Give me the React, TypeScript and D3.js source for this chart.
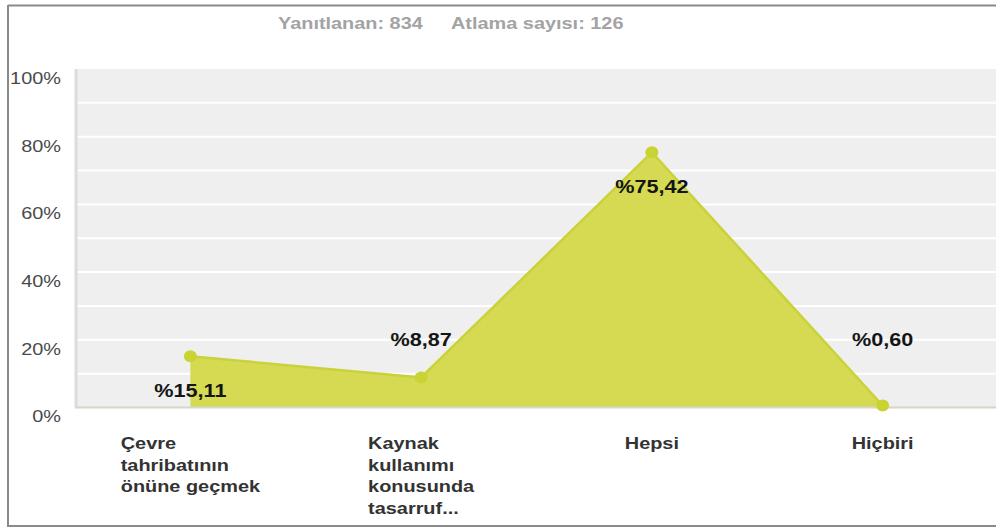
import React, { useMemo } from "react";
import * as d3 from "d3";

const width = 996;
const height = 528;
const margin = { top: 69, right: -2, bottom: 120, left: 75 };
const stretch = 1.17;

const categories = [
  ["Çevre", "tahribatının", "önüne geçmek"],
  ["Kaynak", "kullanımı", "konusunda", "tasarruf..."],
  ["Hepsi"],
  ["Hiçbiri"],
];
const values = [15.11, 8.87, 75.42, 0.6];
const valueLabels = ["%15,11", "%8,87", "%75,42", "%0,60"];
const labelSide = ["below", "above", "below", "above"];
const yTicks = [0, 20, 40, 60, 80, 100];
const gridTicks = [10, 20, 30, 40, 50, 60, 70, 80, 90];
const answeredText = "Yanıtlanan: 834";
const skippedText = "Atlama sayısı: 126";

const font = "'Liberation Sans', Arial, sans-serif";

let ctx: CanvasRenderingContext2D | null = null;
function textWidth(s: string, f: string) {
  if (!ctx) ctx = document.createElement("canvas").getContext("2d");
  if (!ctx) return s.length * 8;
  ctx.font = f;
  return ctx.measureText(s).width * stretch;
}

export default function App() {
  const x = useMemo(
    () =>
      d3
        .scaleBand<number>()
        .domain(values.map((_, i) => i))
        .range([margin.left, width - margin.right]),
    []
  );
  const y = useMemo(
    () =>
      d3
        .scaleLinear()
        .domain([0, 100])
        .range([height - margin.bottom - 0.5, margin.top]),
    []
  );
  const cx = (i: number) => (x(i) as number) + x.bandwidth() / 2;

  const area = d3
    .area<number>()
    .x((_, i) => cx(i))
    .y0(y(0))
    .y1((d) => y(d));
  const line = d3
    .line<number>()
    .x((_, i) => cx(i))
    .y((d) => y(d));

  const plotLeft = margin.left;
  const plotRight = width;

  return (
    <svg
      width={width}
      height={height}
      style={{ position: "absolute", left: 0, top: 0, background: "#fff" }}
      fontFamily={font}
    >
      {/* frame */}
      <line x1={8} x2={width} y1={5.5} y2={5.5} stroke="#8a8a8a" strokeWidth={2} />
      <line x1={8} x2={8} y1={5} y2={527} stroke="#8a8a8a" strokeWidth={2} />
      <line x1={8} x2={width} y1={526} y2={526} stroke="#8a8a8a" strokeWidth={2} />

      {/* header */}
      <g fill="#a3a3a3" fontWeight="bold" fontSize={17}>
        <text transform={`translate(278,29) scale(${stretch},1)`}>{answeredText}</text>
        <text transform={`translate(451,29) scale(${stretch},1)`}>{skippedText}</text>
      </g>

      {/* plot background */}
      <rect
        x={plotLeft}
        y={y(100)}
        width={plotRight - plotLeft}
        height={y(0) - y(100)}
        fill="#efefef"
      />
      {gridTicks.map((t) => (
        <line
          key={t}
          x1={plotLeft}
          x2={plotRight}
          y1={y(t)}
          y2={y(t)}
          stroke="#ffffff"
          strokeWidth={2}
        />
      ))}
      <line x1={plotLeft + 1} x2={plotLeft + 1} y1={y(100)} y2={y(0)} stroke="#dcdcdc" strokeWidth={3} />

      {/* series */}
      <path d={area(values) || ""} fill="#d5da52" />
      <path d={line(values) || ""} fill="none" stroke="#c9d23a" strokeWidth={2.5} />
      <line x1={plotLeft} x2={plotRight} y1={y(0)} y2={y(0)} stroke="#d6d6c8" strokeWidth={2} />
      {values.map((v, i) => (
        <ellipse key={i} cx={cx(i)} cy={y(v)} rx={6.5} ry={6} fill="#cad334" />
      ))}

      {/* value labels */}
      <g fontWeight="bold" fontSize={18.5} fill="#151515">
        {values.map((v, i) => {
          const ly = labelSide[i] === "below" ? y(v) + 34 : Math.min(y(v) - 37, y(20));
          return (
            <text
              key={i}
              transform={`translate(${cx(i)},${ly}) scale(${stretch},1)`}
              textAnchor="middle"
              dominantBaseline="central"
            >
              {valueLabels[i]}
            </text>
          );
        })}
      </g>

      {/* y ticks */}
      <g fontSize={17} fill="#4a4a4a">
        {yTicks.map((t) => (
          <text
            key={t}
            transform={`translate(61,${y(t) + 9}) scale(${stretch},1)`}
            textAnchor="end"
            dominantBaseline="central"
          >
            {t}%
          </text>
        ))}
      </g>

      {/* x categories */}
      <g fontWeight="bold" fontSize={17} fill="#333">
        {categories.map((lines, i) => {
          const w = d3.max(lines, (l) => textWidth(l, `bold 17px ${font}`)) || 0;
          const left = cx(i) - w / 2;
          return lines.map((l, j) => (
            <text
              key={i + "-" + j}
              transform={`translate(${left},${443 + j * 21.7}) scale(${stretch},1)`}
              dominantBaseline="central"
            >
              {l}
            </text>
          ));
        })}
      </g>
    </svg>
  );
}
